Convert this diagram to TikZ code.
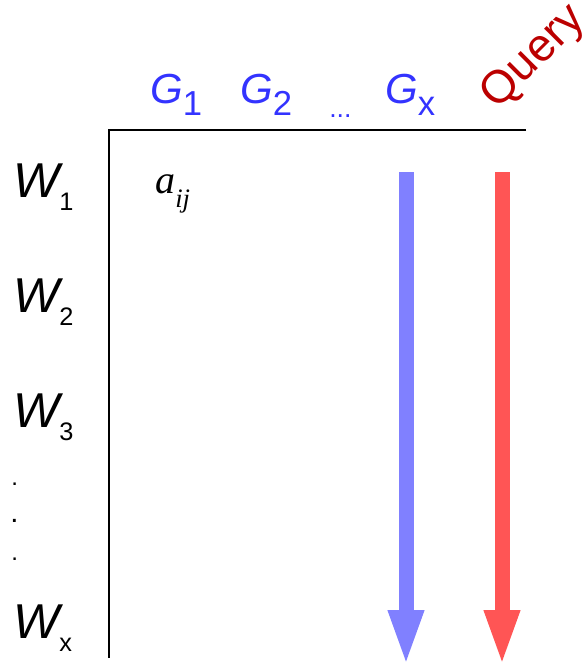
\documentclass[tikz,border=0pt]{standalone}
\usepackage{fontspec}
\setmainfont{Liberation Sans}
\newfontfamily\timesfont{Liberation Serif}
\definecolor{genblue}{HTML}{3333FF}
\definecolor{queryred}{HTML}{BB0000}
\definecolor{arrowblue}{HTML}{8080FF}
\definecolor{arrowred}{HTML}{FF5555}
\usetikzlibrary{arrows.meta}
% italic letter with a lowered upright index
\newcommand{\wname}[1]{{\fontsize{36.7}{40}\selectfont\itshape W}\raisebox{-9.75pt}{\fontsize{19}{22}\selectfont #1}}
\newcommand{\gname}[1]{{\fontsize{31.5}{36}\selectfont\itshape G\/}\raisebox{-9pt}{\fontsize{26}{30}\selectfont #1}}

\begin{document}
\begin{tikzpicture}[
  x=0.75pt, y=-0.75pt,
  rowlabel/.style={anchor=base west, inner sep=0pt, text=black},
  collabel/.style={anchor=base west, inner sep=0pt, text=genblue},
  axis/.style={line width=1.5pt, color=black},
  flowarrow/.style={line width=11.25pt, -{Triangle[length=42.75pt, width=24pt]}},
]
  \useasboundingbox (0,0) rectangle (588,669);

  % Columns
  \node[collabel] (g1) at (150,103) {\gname{1}};
  \node[collabel] (g2) at (240,103) {\gname{2}};
  \node[collabel, font=\fontsize{20}{24}\selectfont] (gdots) at (329,117) {...};
  \node[collabel] (gx) at (385,103) {\gname{x}};
  \node[inner sep=0pt, rotate=45, text=queryred,
    font=\fontsize{34.5}{40}\selectfont] (query) at (534,58) {Query};

  % Rows
  \node[rowlabel] (w1) at (13,197) {\wname{1}};
  \node[rowlabel] (w2) at (13,312) {\wname{2}};
  \node[rowlabel] (w3) at (13,427) {\wname{3}};
  \node[rowlabel, font=\fontsize{18}{20}\selectfont] (dota) at (11,485) {.};
  \node[rowlabel, font=\fontsize{22}{24}\selectfont] (dotb) at (10,522) {.};
  \node[rowlabel, font=\fontsize{18}{20}\selectfont] (dotc) at (11,560) {.};
  \node[rowlabel] (wx) at (13,638) {\wname{x}};

  % Entry
  \node[rowlabel] (aij) at (155,193)
    {{\timesfont\itshape\fontsize{30}{34}\selectfont a}\raisebox{-10.5pt}{\timesfont\itshape\fontsize{20}{24}\selectfont ij}};

  % Axes
  \coordinate (corner) at (109,130);
  \coordinate (hend) at (526,130);
  \coordinate (vend) at (109,658);
  \draw[axis] (hend) -- (corner) -- (vend);

  % Arrows
  \coordinate (gxtop) at (406,172);
  \coordinate (gxbot) at (406,667);
  \coordinate (qtop) at (502,172);
  \coordinate (qbot) at (502,667);
  \draw[flowarrow, color=arrowblue] (gxtop) -- (gxbot);
  \draw[flowarrow, color=arrowred] (qtop) -- (qbot);
\end{tikzpicture}
\end{document}
